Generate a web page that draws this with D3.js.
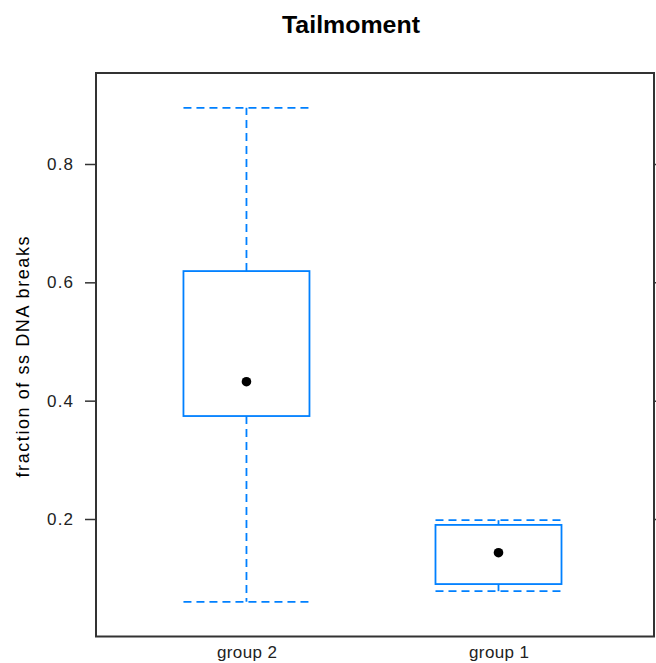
<!DOCTYPE html>
<html>
<head>
<meta charset="utf-8">
<script src="https://cdn.jsdelivr.net/npm/d3@7"></script>
<style>
  html, body { margin: 0; padding: 0; background: #fff; }
  svg { display: block; font-family: "Liberation Sans", Arial, sans-serif; }
</style>
</head>
<body>
<div id="chart"></div>
<script>
// data
const categories = ['group 2', 'group 1'];
const lowerWhisker = [0.060, 0.078];
const q1 = [0.374, 0.090];
const medians = [0.432, 0.143];
const q3 = [0.619, 0.190];
const upperWhisker = [0.895, 0.198];
const yTicks = [0.2, 0.4, 0.6, 0.8];

const width = 656, height = 663;
const panel = { left: 96, right: 654, top: 73, bottom: 636.5 };
const blue = '#0080ff';

const svg = d3.select('#chart').append('svg')
  .attr('width', width)
  .attr('height', height);

const y = d3.scaleLinear()
  .domain([0.0014, 0.9538])
  .range([panel.bottom, panel.top]);

// categories sit at 1, 2 like lattice does
const x = d3.scaleLinear()
  .domain([0.403, 2.617])
  .range([panel.left, panel.right]);

const boxHalf = 0.25; // half box width in category units

const data = categories.map((c, i) => ({
  name: c, pos: i + 1,
  lo: lowerWhisker[i], q1: q1[i], med: medians[i], q3: q3[i], hi: upperWhisker[i]
}));

// title
svg.append('text')
  .attr('x', 351)
  .attr('y', 33)
  .attr('text-anchor', 'middle')
  .attr('textLength', 138)
  .attr('lengthAdjust', 'spacingAndGlyphs')
  .style('font-size', '24px')
  .style('font-weight', 'bold')
  .text('Tailmoment');

// y axis label
svg.append('text')
  .attr('transform', `translate(29,357) rotate(-90)`)
  .attr('text-anchor', 'middle')
  .attr('textLength', 241)
  .attr('lengthAdjust', 'spacing')
  .style('font-size', '18px')
  .text('fraction of ss DNA breaks');

// left axis
const leftAxis = svg.append('g')
  .attr('transform', `translate(${panel.left},0)`)
  .call(d3.axisLeft(y).tickValues(yTicks).tickSize(11).tickPadding(12).tickFormat(d3.format('.1f')));
leftAxis.select('.domain').remove();
leftAxis.selectAll('.tick line').attr('stroke', '#333').attr('stroke-width', 1.5);
leftAxis.selectAll('.tick text')
  .style('font-family', '"Liberation Sans", Arial, sans-serif')
  .style('font-size', '17px')
  .attr('textLength', 26)
  .attr('lengthAdjust', 'spacing')
  .attr('fill', '#222');

// right axis ticks only
const rightAxis = svg.append('g')
  .attr('transform', `translate(${panel.right},0)`)
  .call(d3.axisRight(y).tickValues(yTicks).tickSize(10).tickFormat(''));
rightAxis.select('.domain').remove();
rightAxis.selectAll('.tick line').attr('stroke', '#333').attr('stroke-width', 1.5);

// bottom category labels
const bottomAxis = svg.append('g')
  .attr('transform', `translate(0,${panel.bottom})`)
  .call(d3.axisBottom(x).tickValues(data.map(d => d.pos)).tickSize(0).tickPadding(9)
    .tickFormat((d, i) => categories[i]));
bottomAxis.select('.domain').remove();
bottomAxis.selectAll('.tick text')
  .style('font-family', '"Liberation Sans", Arial, sans-serif')
  .style('font-size', '17px')
  .attr('textLength', 60)
  .attr('lengthAdjust', 'spacing')
  .attr('fill', '#222');

// boxes
const g = svg.append('g');
const box = g.selectAll('g.box')
  .data(data)
  .enter().append('g')
  .attr('class', 'box');

// whiskers (dashed)
box.append('line')
  .attr('x1', d => x(d.pos)).attr('x2', d => x(d.pos))
  .attr('y1', d => y(d.q3)).attr('y2', d => y(d.hi))
  .attr('stroke', blue).attr('stroke-width', 1.8).attr('stroke-dasharray', '8,5');
box.append('line')
  .attr('x1', d => x(d.pos)).attr('x2', d => x(d.pos))
  .attr('y1', d => y(d.q1)).attr('y2', d => y(d.lo))
  .attr('stroke', blue).attr('stroke-width', 1.8).attr('stroke-dasharray', '8,5');

// caps
['hi', 'lo'].forEach(k => {
  box.append('line')
    .attr('x1', d => x(d.pos - boxHalf)).attr('x2', d => x(d.pos + boxHalf))
    .attr('y1', d => y(d[k])).attr('y2', d => y(d[k]))
    .attr('stroke', blue).attr('stroke-width', 1.8).attr('stroke-dasharray', '8,5');
});

box.append('rect')
  .attr('x', d => x(d.pos - boxHalf))
  .attr('width', d => x(d.pos + boxHalf) - x(d.pos - boxHalf))
  .attr('y', d => y(d.q3))
  .attr('height', d => y(d.q1) - y(d.q3))
  .attr('fill', 'none')
  .attr('stroke', blue)
  .attr('stroke-width', 1.8);

box.append('circle')
  .attr('cx', d => x(d.pos))
  .attr('cy', d => y(d.med))
  .attr('r', 4.8)
  .attr('fill', '#000');

// panel frame
svg.append('rect')
  .attr('x', panel.left).attr('y', panel.top)
  .attr('width', panel.right - panel.left)
  .attr('height', panel.bottom - panel.top)
  .attr('fill', 'none')
  .attr('stroke', '#333')
  .attr('stroke-width', 2);
</script>
</body>
</html>
